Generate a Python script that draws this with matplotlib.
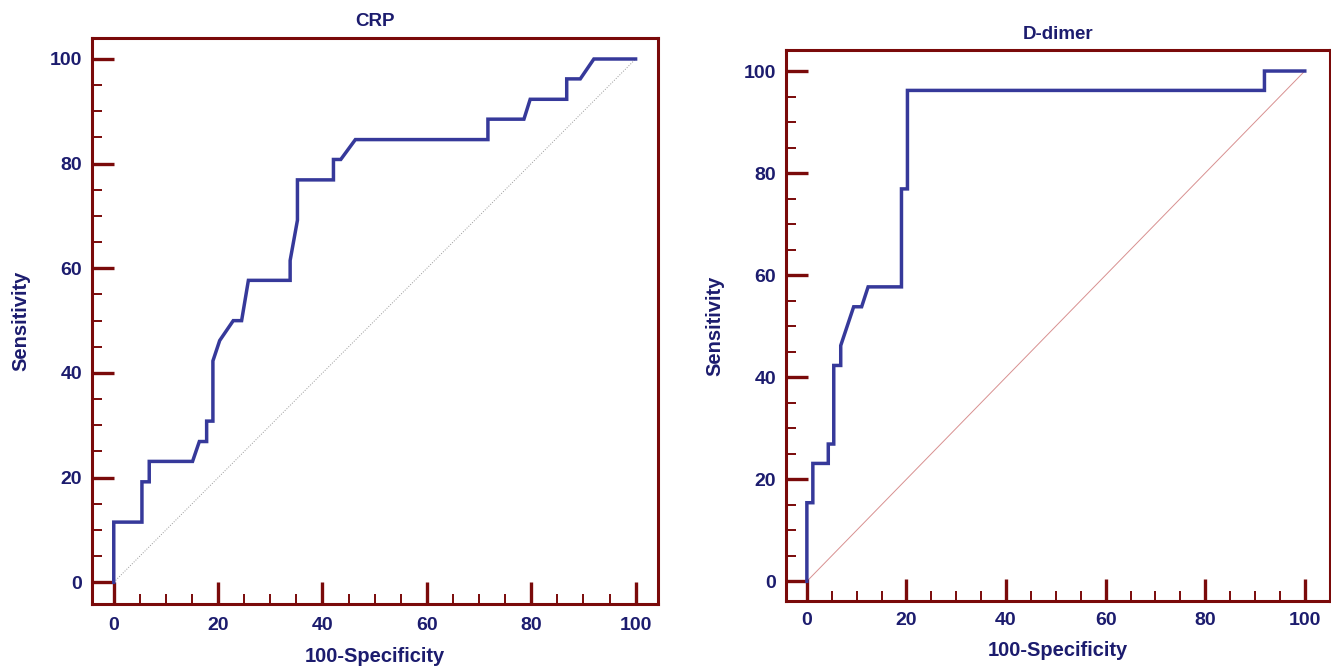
import matplotlib
matplotlib.use('Agg')
import matplotlib.pyplot as plt
from matplotlib.ticker import MultipleLocator

plt.rcParams['font.family'] = ['Liberation Sans', 'DejaVu Sans']

# ROC points (100-Specificity, Sensitivity)
crp_x = [0, 0, 5.4, 5.4, 6.8, 6.8, 15.1, 16.4, 17.8, 17.8, 19.0, 19.0, 20.3, 22.9, 24.5,
         25.8, 33.8, 33.8, 35.2, 35.2, 42.1, 42.1, 43.5, 46.3, 71.7, 71.7, 78.6, 79.8,
         86.8, 86.8, 89.4, 92.0, 100]
crp_y = [0, 11.5, 11.5, 19.2, 19.2, 23.1, 23.1, 26.9, 26.9, 30.8, 30.8, 42.3, 46.2, 50.0, 50.0,
         57.7, 57.7, 61.5, 69.2, 76.9, 76.9, 80.8, 80.8, 84.6, 84.6, 88.5, 88.5, 92.3,
         92.3, 96.2, 96.2, 100, 100]

dd_x = [0, 0, 1.2, 1.2, 4.3, 4.3, 5.4, 5.4, 6.8, 6.8, 9.4, 11.0, 12.3, 19.0, 19.0, 20.2,
        20.2, 91.9, 91.9, 100]
dd_y = [0, 15.4, 15.4, 23.1, 23.1, 26.9, 26.9, 42.3, 42.3, 46.2, 53.8, 53.8, 57.7, 57.7, 76.9,
        76.9, 96.2, 96.2, 100, 100]

ticks = [0, 20, 40, 60, 80, 100]

spine_c = '#7a0a0a'
line_c = '#36399a'
text_c = '#1c1c6e'

fig = plt.figure(figsize=(13.31, 6.68), dpi=100)
ax1 = fig.add_axes([0.069, 0.0958, 0.425, 0.848])
ax2 = fig.add_axes([0.5905, 0.100, 0.4085, 0.825])


def style(ax, title, xlim, ylim, diag_c, diag_ls, xpad):
    ax.plot([0, 100], [0, 100], color=diag_c, lw=0.7, ls=diag_ls, zorder=1)
    ax.set_xlim(*xlim)
    ax.set_ylim(*ylim)
    ax.set_xticks(ticks)
    ax.set_yticks(ticks)
    ax.xaxis.set_minor_locator(MultipleLocator(5))
    ax.yaxis.set_minor_locator(MultipleLocator(5))
    for s in ax.spines.values():
        s.set_color(spine_c)
        s.set_linewidth(2.2)
    ax.tick_params(which='major', direction='in', length=16, width=2.4, color=spine_c,
                   labelsize=14, labelcolor=text_c)
    ax.tick_params(axis='y', which='major', pad=7)
    ax.tick_params(axis='x', which='major', pad=xpad)
    ax.tick_params(which='minor', direction='in', length=7, width=1.4, color=spine_c)
    ax.tick_params(top=False, right=False, which='both')
    for lb in ax.get_xticklabels() + ax.get_yticklabels():
        lb.set_fontweight('bold')
    ax.set_title(title, fontsize=13.5, fontweight='bold', color=text_c, pad=8)
    ax.set_xlabel('100-Specificity', fontsize=14.5, fontweight='bold', color=text_c, labelpad=9)
    ax.set_ylabel('Sensitivity', fontsize=14.5, fontweight='bold', color=text_c, labelpad=14)


ax1.plot(crp_x, crp_y, color=line_c, lw=2.5, zorder=3, solid_joinstyle='miter')
style(ax1, 'CRP', (-4.2, 104.2), (-4.15, 104.1), '#9a9a9a', ':', 9.5)

ax2.plot(dd_x, dd_y, color=line_c, lw=2.5, zorder=3, solid_joinstyle='miter')
style(ax2, 'D-dimer', (-4.2, 105), (-3.9, 104.1), '#d89090', '-', 7.5)

fig.savefig('out.png', dpi=100)
